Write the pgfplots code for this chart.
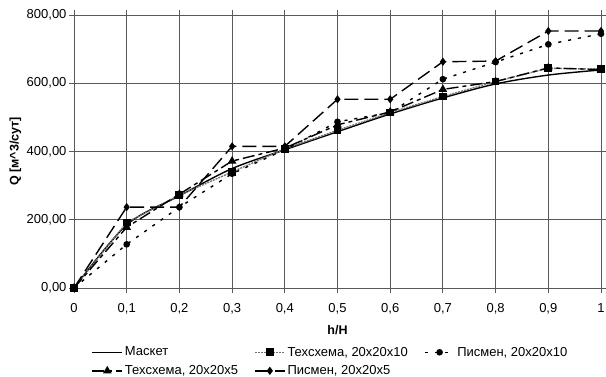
\documentclass[border=0pt]{standalone}
\usepackage{fontspec}
\setmainfont{Liberation Sans}
\usepackage{pgfplots}
\pgfplotsset{compat=1.18}
\begin{document}
\begin{tikzpicture}
\useasboundingbox (-74pt,-89pt) rectangle (532pt,288pt);
\begin{axis}[
  at={(0pt,0pt)}, anchor=south west,
  scale only axis, width=527pt, height=273pt,
  xmin=0, xmax=1, ymin=0, ymax=800,
  xtick={0,0.1,...,1.01}, ytick={0,200,...,800},
  grid=major, major grid style={black!65, line width=0.8pt},
  axis line style={black!65, line width=0.8pt},
  tick style={black!65, line width=0.8pt},
  tick align=outside, major tick length=5pt,
  /pgf/number format/assume math mode=true,
  /pgf/number format/use comma,
  yticklabel style={xshift=1pt, /pgf/number format/.cd, fixed, fixed zerofill, precision=2, 1000 sep={}},
  xticklabel style={yshift=-7pt, /pgf/number format/.cd, fixed, precision=1},
  tick label style={font=\fontsize{13}{15}\selectfont},
  xlabel={\textbf{h/H}}, ylabel={\textbf{Q [м\^{}3/сут]}},
  label style={font=\fontsize{12.5}{14}\selectfont},
  xlabel style={at={(axis description cs:0.5,-0.154)}, anchor=center},
  ylabel style={at={(axis description cs:-0.111,0.5)}, anchor=center},
  legend style={at={(axis description cs:0.033,-0.208)}, anchor=north west, draw=none, fill=none, inner sep=0pt,
    font=\fontsize{13}{15}\selectfont, /tikz/row sep=4pt,
    /tikz/every even column/.append style={column sep=14pt},
    /tikz/every odd column/.append style={column sep=0pt}},
  legend columns=3,
  legend cell align=left,
  legend image code/.code={\draw[mark repeat=2,mark phase=2] plot coordinates {(0pt,0pt) (15pt,0pt) (30pt,0pt)};},
]
\addplot[black, line width=1.4pt, smooth] coordinates {(0,0) (0.1,185) (0.2,270) (0.3,350) (0.4,405) (0.5,458) (0.6,510) (0.7,557) (0.8,598) (0.9,624) (1,639)};
\addlegendentry{Маскет}
\addplot[black!55, line width=1.4pt, dash pattern=on 2pt off 1pt, mark=square*, mark options={black, solid, scale=1.6}] coordinates {(0,0) (0.1,192) (0.2,272) (0.3,340) (0.4,408) (0.5,462) (0.6,514) (0.7,561) (0.8,605) (0.9,644) (1,641)};
\addlegendentry{Техсхема, 20x20x10}
\addplot[black, line width=1.4pt, dash pattern=on 3pt off 7pt, mark=*, mark options={solid, scale=1.3}] coordinates {(0,0) (0.1,128) (0.2,237) (0.3,335) (0.4,405) (0.5,487) (0.6,514) (0.7,612) (0.8,662) (0.9,714) (1,745)};
\addlegendentry{Писмен, 20x20x10}
\addplot[black, line width=1.4pt, dash pattern=on 12pt off 4pt on 4pt off 4pt, mark=triangle*, mark options={solid, scale=1.8}] coordinates {(0,0) (0.1,178) (0.2,275) (0.3,372) (0.4,410) (0.5,478) (0.6,516) (0.7,582) (0.8,605) (0.9,645) (1,640)};
\addlegendentry{Техсхема, 20x20x5}
\addplot[black, line width=1.4pt, dash pattern=on 14pt off 6pt, mark=diamond*, mark options={solid, scale=1.5}] coordinates {(0,0) (0.1,237) (0.2,237) (0.3,415) (0.4,415) (0.5,553) (0.6,553) (0.7,663) (0.8,665) (0.9,753) (1,753)};
\addlegendentry{Писмен, 20x20x5}
\end{axis}
\end{tikzpicture}
\end{document}
